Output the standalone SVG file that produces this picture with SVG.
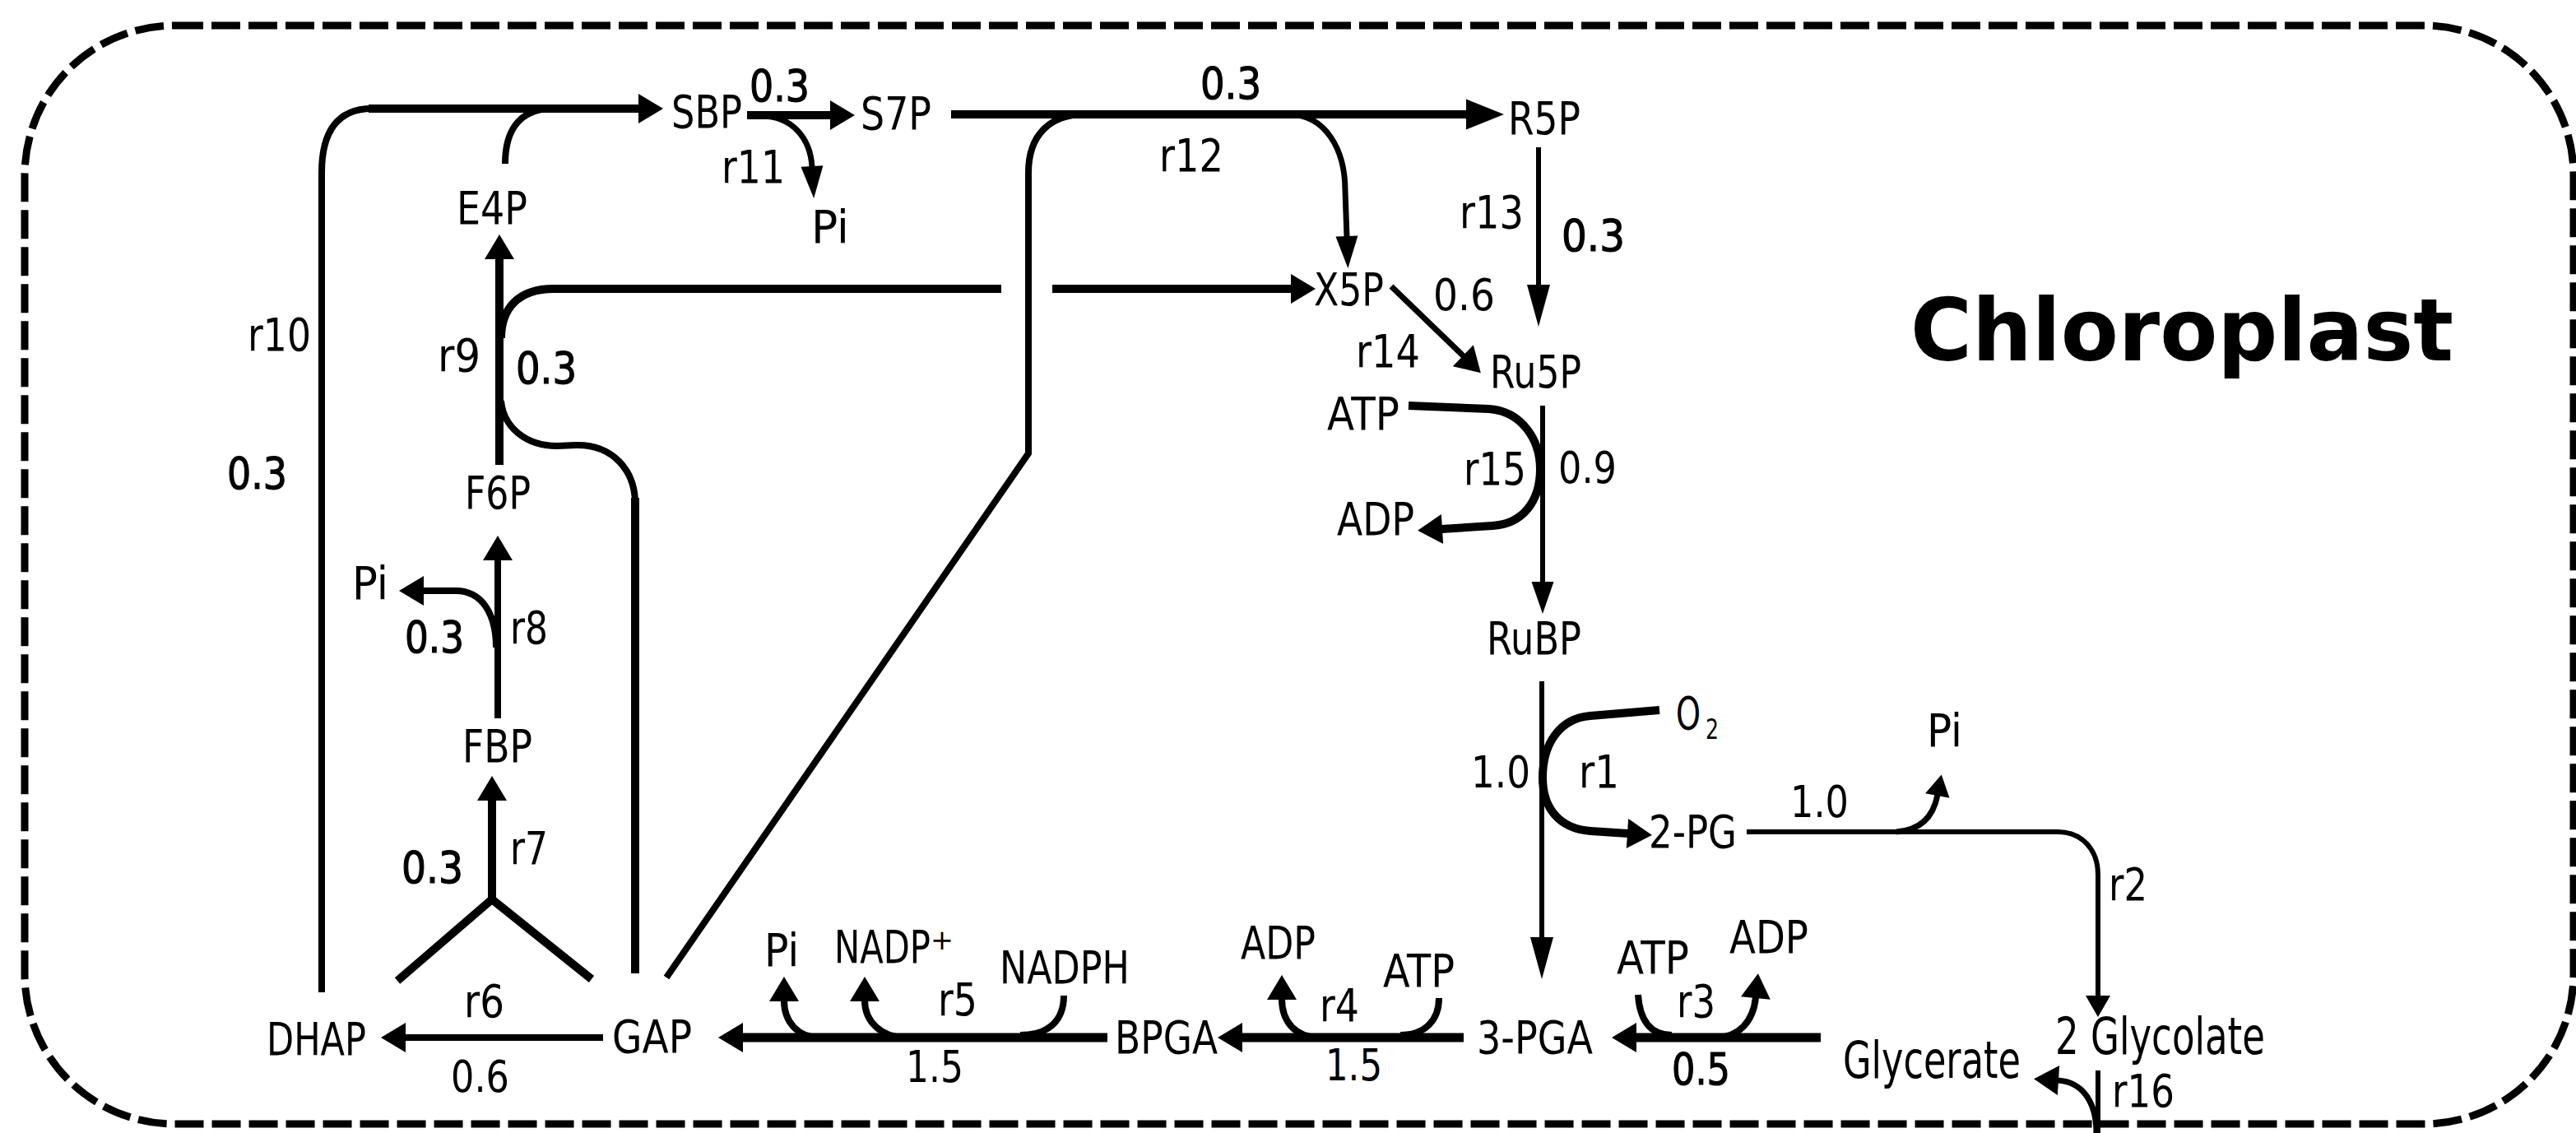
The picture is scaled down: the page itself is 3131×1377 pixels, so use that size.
<svg xmlns="http://www.w3.org/2000/svg" width="3131" height="1377" viewBox="0 0 3131 1377">
<style>
text{font-family:"DejaVu Sans","Liberation Sans",sans-serif;font-size:56px;fill:#000}
.num{font-size:53px}
.bn{stroke:#000;stroke-width:1.2px}
.big{font-size:62px}
.title{font-size:105px;font-weight:bold}
.sub{font-size:33px}
.c{fill:none;stroke:#000}
.w6{stroke-width:6}
.w7{stroke-width:7}
.w8{stroke-width:8}
.w10{stroke-width:10}
.w11{stroke-width:11}
.border{fill:none;stroke:#000;stroke-width:9;stroke-dasharray:35 10}
</style>
<defs>
<marker id="ah" markerUnits="userSpaceOnUse" orient="auto" viewBox="-2 -20 33 40" refX="0" refY="0" markerWidth="33" markerHeight="40"><path d="M-1,-18 L29,0 L-1,18 Z"/></marker>
<marker id="ahw" markerUnits="userSpaceOnUse" orient="auto" viewBox="-2 -20 49 40" refX="0" refY="0" markerWidth="49" markerHeight="40"><path d="M-1,-18.5 L45,0 L-1,18.5 Z"/></marker>
<marker id="ahl" markerUnits="userSpaceOnUse" orient="auto" viewBox="-2 -16 54 32" refX="0" refY="0" markerWidth="54" markerHeight="32"><path d="M-1,-14 L50,0 L-1,14 Z"/></marker>
<marker id="ahm" markerUnits="userSpaceOnUse" orient="auto" viewBox="-2 -16 42 32" refX="0" refY="0" markerWidth="42" markerHeight="32"><path d="M-1,-13.5 L38,0 L-1,13.5 Z"/></marker>
<marker id="ahs" markerUnits="userSpaceOnUse" orient="auto" viewBox="-2 -17 29 34" refX="0" refY="0" markerWidth="29" markerHeight="34"><path d="M-1,-15 L25,0 L-1,15 Z"/></marker>
</defs>
<rect width="3131" height="1377" fill="#fff"/>
<g id="chloroplast">
<rect class="border" x="30" y="31" width="3098" height="1335" rx="182" ry="182"/>
<text class="title" x="2322" y="438" textLength="660" lengthAdjust="spacingAndGlyphs">Chloroplast</text>
</g>
<g id="connectors">
<!-- r10 DHAP -> SBP -->
<path class="c w8" d="M391,1206 V210 C391,160 410,132 452,132"/>
<path class="c w10" d="M448,132 H777" marker-end="url(#ah)"/>
<path class="c w8" d="M614,199 C614,160 630,134 668,132"/>
<!-- SBP -> S7P, r11 -->
<path class="c w10" d="M908,140 H1010" marker-end="url(#ah)"/>
<path class="c w7" d="M925,141 C963,141 985,168 987,203" marker-end="url(#ahm)"/>
<!-- r9 F6P -> E4P -->
<path class="c w10" d="M607,565 V314" marker-end="url(#ah)"/>
<path class="c w10" d="M609,411 C609,375 630,351 673,351 H1217"/>
<path class="c w10" d="M1279,351 H1570" marker-end="url(#ah)"/>
<path class="c w8" d="M609,487 C612,520 640,542 677,542 L700,541 C745,540 772,572 772,612"/>
<path class="c w10" d="M772,605 V1183"/>
<!-- r8 FBP -> F6P -->
<path class="c w8" d="M605,873 V680" marker-end="url(#ah)"/>
<path class="c w8" d="M603,787 C603,745 585,718 554,718 H514" marker-end="url(#ah)"/>
<!-- r7 DHAP + GAP -> FBP -->
<path class="c w10" d="M483,1192 L598,1093 L719,1190"/>
<path class="c w10" d="M598,1093 V972" marker-end="url(#ah)"/>
<!-- r6 GAP -> DHAP -->
<path class="c w8" d="M733,1261 H492" marker-end="url(#ah)"/>
<!-- r5 BPGA -> GAP -->
<path class="c w11" d="M1346,1261 H902" marker-end="url(#ah)"/>
<path class="c w8" d="M996,1261 C970,1261 953,1242 953,1216" marker-end="url(#ah)"/>
<path class="c w8" d="M1100,1261 C1072,1261 1051,1242 1051,1216" marker-end="url(#ah)"/>
<path class="c w8" d="M1293,1210 C1293,1240 1275,1258 1240,1258"/>
<!-- r4 3-PGA -> BPGA -->
<path class="c w11" d="M1779,1261 H1509" marker-end="url(#ah)"/>
<path class="c w8" d="M1603,1261 C1576,1261 1558,1243 1558,1214" marker-end="url(#ah)"/>
<path class="c w8" d="M1749,1213 C1749,1240 1732,1258 1702,1258"/>
<!-- r3 Glycerate -> 3-PGA -->
<path class="c w11" d="M2213,1261 H1988" marker-end="url(#ah)"/>
<path class="c w8" d="M1991,1209 C1993,1240 2006,1258 2032,1258"/>
<path class="c w8" d="M2085,1261 C2113,1261 2131,1242 2134,1212" marker-end="url(#ah)"/>
<!-- r1 RuBP -> 3-PGA + 2-PG -->
<path class="c w6" d="M1874,828 V1140" marker-end="url(#ahl)"/>
<path class="c w10" d="M2017,863 L1933,870 C1895,873 1875,905 1875,945 C1875,982 1895,1007 1933,1010 L1979,1013" marker-end="url(#ah)"/>
<!-- r2 2-PG -> 2 Glycolate -->
<path class="c w6" d="M2123,1011 H2501 C2530,1011 2550,1032 2550,1063 V1211" marker-end="url(#ahs)"/>
<path class="c w7" d="M2305,1011 C2335,1009 2350,992 2355,966" marker-end="url(#ahs)"/>
<!-- r16 -->
<path class="c w6" d="M2550,1301 V1377"/>
<path class="c w7" d="M2548,1377 C2548,1340 2532,1315 2501,1313" marker-end="url(#ah)"/>
<!-- r15 Ru5P -> RuBP -->
<path class="c w6" d="M1875,493 V708" marker-end="url(#ahm)"/>
<path class="c w10" d="M1712,493 L1810,497 C1850,500 1872,535 1872,570 C1872,610 1850,637 1814,639 L1752,643" marker-end="url(#ah)"/>
<!-- r14 X5P -> Ru5P -->
<path class="c w7" d="M1691,348 L1779,433" marker-end="url(#ah)"/>
<!-- r13 R5P -> Ru5P -->
<path class="c w6" d="M1870,179 V347" marker-end="url(#ahl)"/>
<!-- r12 -->
<path class="c w10" d="M1156,139 H1783" marker-end="url(#ahw)"/>
<path class="c w8" d="M1319,139 C1275,139 1250,165 1250,210 V551 L810,1188"/>
<path class="c w7" d="M1568,139 C1610,140 1635,180 1635,232 L1637,288" marker-end="url(#ahm)"/>
</g>
<g id="labels">
<text x="301" y="426" textLength="77" lengthAdjust="spacingAndGlyphs">r10</text>
<text x="532" y="451" textLength="52" lengthAdjust="spacingAndGlyphs">r9</text>
<text x="877" y="222" textLength="77" lengthAdjust="spacingAndGlyphs">r11</text>
<text x="1409" y="208" textLength="78" lengthAdjust="spacingAndGlyphs">r12</text>
<text x="1774" y="277" textLength="78" lengthAdjust="spacingAndGlyphs">r13</text>
<text x="1648" y="446" textLength="78" lengthAdjust="spacingAndGlyphs">r14</text>
<text x="1779" y="589" textLength="76" lengthAdjust="spacingAndGlyphs">r15</text>
<text x="1919" y="957" textLength="49" lengthAdjust="spacingAndGlyphs">r1</text>
<text x="2563" y="1094" textLength="47" lengthAdjust="spacingAndGlyphs">r2</text>
<text x="2038" y="1236" textLength="47" lengthAdjust="spacingAndGlyphs">r3</text>
<text x="1604" y="1241" textLength="48" lengthAdjust="spacingAndGlyphs">r4</text>
<text x="1140" y="1234" textLength="48" lengthAdjust="spacingAndGlyphs">r5</text>
<text x="564" y="1236" textLength="49" lengthAdjust="spacingAndGlyphs">r6</text>
<text x="620" y="1050" textLength="46" lengthAdjust="spacingAndGlyphs">r7</text>
<text x="620" y="782" textLength="46" lengthAdjust="spacingAndGlyphs">r8</text>
<text x="2567" y="1345" textLength="76" lengthAdjust="spacingAndGlyphs">r16</text>
<text class="num bn" x="911" y="123" textLength="73" lengthAdjust="spacingAndGlyphs">0.3</text>
<text class="num bn" x="1459" y="120" textLength="74" lengthAdjust="spacingAndGlyphs">0.3</text>
<text class="num bn" x="1898" y="305" textLength="77" lengthAdjust="spacingAndGlyphs">0.3</text>
<text class="num" x="1742" y="377" textLength="75" lengthAdjust="spacingAndGlyphs">0.6</text>
<text class="num" x="1894" y="587" textLength="71" lengthAdjust="spacingAndGlyphs">0.9</text>
<text class="num bn" x="276" y="594" textLength="73" lengthAdjust="spacingAndGlyphs">0.3</text>
<text class="num bn" x="627" y="466" textLength="74" lengthAdjust="spacingAndGlyphs">0.3</text>
<text class="num bn" x="492" y="793" textLength="72" lengthAdjust="spacingAndGlyphs">0.3</text>
<text class="num bn" x="488" y="1073" textLength="75" lengthAdjust="spacingAndGlyphs">0.3</text>
<text class="num" x="548" y="1327" textLength="71" lengthAdjust="spacingAndGlyphs">0.6</text>
<text class="num" x="1101" y="1315" textLength="70" lengthAdjust="spacingAndGlyphs">1.5</text>
<text class="num" x="1611" y="1313" textLength="69" lengthAdjust="spacingAndGlyphs">1.5</text>
<text class="num bn" x="2032" y="1318" textLength="71" lengthAdjust="spacingAndGlyphs">0.5</text>
<text class="num" x="1788" y="957" textLength="72" lengthAdjust="spacingAndGlyphs">1.0</text>
<text class="num" x="2176" y="993" textLength="71" lengthAdjust="spacingAndGlyphs">1.0</text>
</g>
<g id="SBP"><text x="816" y="155" textLength="86" lengthAdjust="spacingAndGlyphs">SBP</text></g>
<g id="S7P"><text x="1046" y="157" textLength="86" lengthAdjust="spacingAndGlyphs">S7P</text></g>
<g id="R5P"><text x="1833" y="163" textLength="88" lengthAdjust="spacingAndGlyphs">R5P</text></g>
<g id="E4P"><text x="555" y="272" textLength="86" lengthAdjust="spacingAndGlyphs">E4P</text></g>
<g id="X5P"><text x="1597" y="371" textLength="85" lengthAdjust="spacingAndGlyphs">X5P</text></g>
<g id="Ru5P"><text x="1811" y="471" textLength="111" lengthAdjust="spacingAndGlyphs">Ru5P</text></g>
<g id="ATP-r15"><text x="1613" y="522" textLength="88" lengthAdjust="spacingAndGlyphs">ATP</text></g>
<g id="ADP-r15"><text x="1625" y="650" textLength="94" lengthAdjust="spacingAndGlyphs">ADP</text></g>
<g id="F6P"><text x="565" y="618" textLength="80" lengthAdjust="spacingAndGlyphs">F6P</text></g>
<g id="Pi-r11"><text x="986" y="295" textLength="46" lengthAdjust="spacingAndGlyphs">Pi</text></g>
<g id="Pi-r8"><text x="428" y="728" textLength="44" lengthAdjust="spacingAndGlyphs">Pi</text></g>
<g id="FBP"><text x="562" y="926" textLength="85" lengthAdjust="spacingAndGlyphs">FBP</text></g>
<g id="RuBP"><text x="1807" y="795" textLength="115" lengthAdjust="spacingAndGlyphs">RuBP</text></g>
<g id="O2"><text x="2037" y="886" textLength="30" lengthAdjust="spacingAndGlyphs">O</text><text class="sub" x="2073" y="898" textLength="16" lengthAdjust="spacingAndGlyphs">2</text></g>
<g id="PG2"><text x="2004" y="1030" textLength="107" lengthAdjust="spacingAndGlyphs">2-PG</text></g>
<g id="Pi-r2"><text x="2342" y="907" textLength="43" lengthAdjust="spacingAndGlyphs">Pi</text></g>
<g id="DHAP"><text x="324" y="1282" textLength="121" lengthAdjust="spacingAndGlyphs">DHAP</text></g>
<g id="GAP"><text x="744" y="1279" textLength="97" lengthAdjust="spacingAndGlyphs">GAP</text></g>
<g id="Pi-r5"><text x="929" y="1174" textLength="42" lengthAdjust="spacingAndGlyphs">Pi</text></g>
<g id="NADPplus"><text x="1014" y="1170" textLength="117" lengthAdjust="spacingAndGlyphs">NADP</text><text class="sub" x="1131" y="1154" textLength="28" lengthAdjust="spacingAndGlyphs">+</text></g>
<g id="NADPH"><text x="1215" y="1195" textLength="158" lengthAdjust="spacingAndGlyphs">NADPH</text></g>
<g id="BPGA"><text x="1355" y="1280" textLength="125" lengthAdjust="spacingAndGlyphs">BPGA</text></g>
<g id="ADP-r4"><text x="1508" y="1165" textLength="91" lengthAdjust="spacingAndGlyphs">ADP</text></g>
<g id="ATP-r4"><text x="1681" y="1199" textLength="87" lengthAdjust="spacingAndGlyphs">ATP</text></g>
<g id="PGA3"><text x="1795" y="1280" textLength="141" lengthAdjust="spacingAndGlyphs">3-PGA</text></g>
<g id="ATP-r3"><text x="1965" y="1183" textLength="88" lengthAdjust="spacingAndGlyphs">ATP</text></g>
<g id="ADP-r3"><text x="2102" y="1158" textLength="96" lengthAdjust="spacingAndGlyphs">ADP</text></g>
<g id="Glycerate"><text class="big" x="2240" y="1310" textLength="216" lengthAdjust="spacingAndGlyphs">Glycerate</text></g>
<g id="Glycolate"><text class="big" x="2498" y="1281" textLength="255" lengthAdjust="spacingAndGlyphs">2 Glycolate</text></g>
</svg>
